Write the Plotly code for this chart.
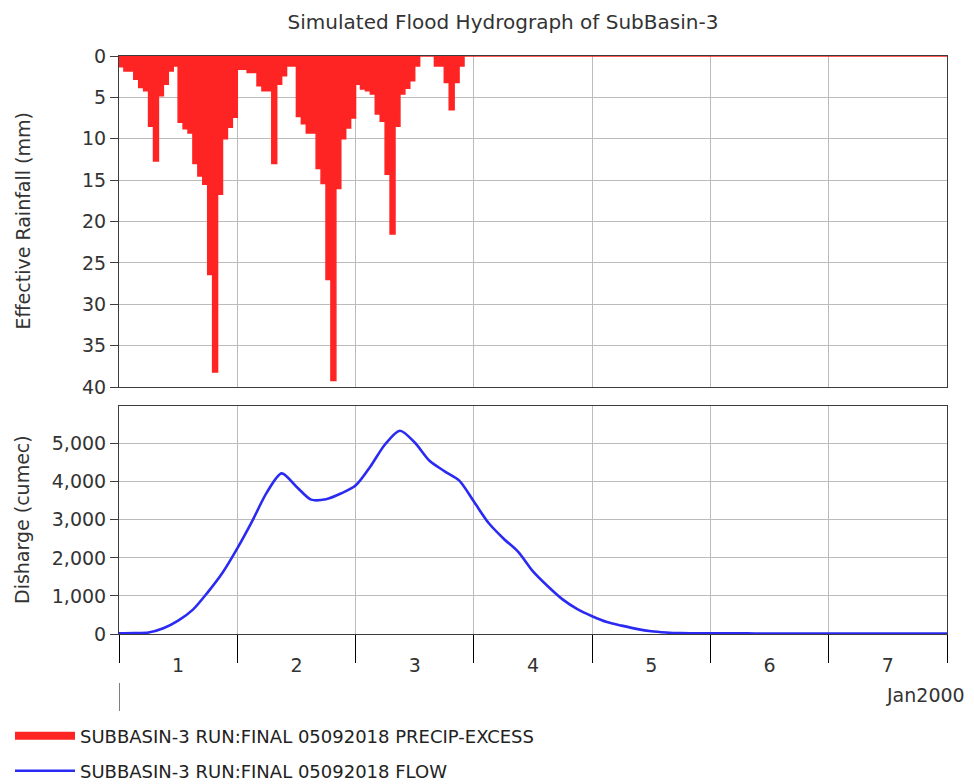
import pandas as pd
import plotly.graph_objects as go

# ---------------- data ----------------
start_time = "2000-01-01 00:00"
end_time = "2000-01-08 00:00"

# hourly effective rainfall (mm), hour 0 .. 71 of the event
rain_mm = [
    1.3, 1.8, 1.8, 2.8, 3.8, 4.2, 8.5, 12.7, 4.8, 3.4, 1.8, 1.2,
    8.0, 8.8, 9.3, 13.0, 14.5, 15.5, 26.4, 38.2, 16.7, 10.0, 8.6, 7.4,
    1.6, 1.6, 2.0, 2.0, 3.6, 4.2, 4.2, 13.0, 3.4, 2.4, 1.2, 1.2,
    7.3, 8.2, 9.3, 9.3, 13.6, 15.4, 27.0, 39.2, 16.0, 10.0, 8.7, 7.5,
    3.4, 4.0, 4.2, 4.6, 7.0, 7.9, 14.3, 21.5, 8.5, 4.6, 3.9, 3.0,
    1.2, 0.0, 0.0, 0.0, 1.2, 1.2, 3.2, 6.5, 3.2, 1.2, 0.0, 0.0,
]
rain_zero_tail = [0.0] * 97  # hours 72 .. 168, no excess rainfall

# discharge (cumec) every 3 hours, hour 0 .. 168
flow_cumec = [
    20, 25, 40, 150, 350, 640, 1095, 1610, 2250, 2960, 3720, 4220,
    3870, 3530, 3540, 3690, 3900, 4400, 4985, 5340, 5030, 4550, 4280, 4035,
    3480, 2915, 2510, 2160, 1645, 1255, 910, 655, 468, 314, 220, 135,
    73, 41, 23, 18, 17, 16, 16, 15, 15, 14, 14, 13,
    13, 12, 12, 12, 11, 11, 11, 10, 10,
]

rain_label = "SUBBASIN-3 RUN:FINAL 05092018 PRECIP-EXCESS"
flow_label = "SUBBASIN-3 RUN:FINAL 05092018 FLOW"
title_text = "Simulated Flood Hydrograph of SubBasin-3"

rain_series = rain_mm + rain_zero_tail
t0 = pd.Timestamp(start_time)
rain_time = [t0 + pd.Timedelta(hours=h) for h in range(len(rain_series))]
flow_time = [t0 + pd.Timedelta(hours=3 * i) for i in range(len(flow_cumec))]

# ---------------- styling ----------------
RED = "#ff2424"
BLUE = "#2a2af2"
GRID = "#bcbcbc"
AXLINE = "#3c3c3c"
TXT = "#333333"
FONT = "DejaVu Sans"
TICK_SIZE = 19

W, H = 974, 784
ML, MR, MT, MB = 119, 27, 56, 150
PH = H - MT - MB      # 578
PW = W - ML - MR      # 828

def py(ypix):
    return (H - MB - ypix) / PH

def px(xpix):
    return (xpix - ML) / PW

fig = go.Figure()

fig.add_trace(go.Scatter(
    x=rain_time, y=rain_series, mode="lines", line_shape="hv",
    line=dict(color=RED, width=1.5), fill="tozeroy", fillcolor=RED,
    xaxis="x2", yaxis="y2", showlegend=False, hoverinfo="x+y",
))
fig.add_trace(go.Scatter(
    x=[None], y=[None], mode="lines", line=dict(color=RED, width=8),
    name=rain_label, legend="legend", showlegend=True, xaxis="x2", yaxis="y2",
))
fig.add_trace(go.Scatter(
    x=flow_time, y=flow_cumec, mode="lines", line_shape="spline",
    line=dict(color=BLUE, width=2.6, smoothing=0.8),
    name=flow_label, legend="legend2", xaxis="x", yaxis="y",
))

xcommon = dict(
    type="date", range=[start_time, end_time], tick0=start_time, dtick=86400000,
    showgrid=True, gridcolor=GRID, gridwidth=1,
    showline=True, linecolor=AXLINE, linewidth=1, mirror=True, zeroline=False,
)
fig.update_layout(
    width=W, height=H,
    margin=dict(l=ML, r=MR, t=MT, b=MB, autoexpand=False),
    paper_bgcolor="white", plot_bgcolor="white",
    font=dict(family=FONT, size=TICK_SIZE, color=TXT),
    title=dict(text=title_text, xref="container", yref="container",
               x=503 / W, y=1 - 22 / H, xanchor="center", yanchor="middle",
               font=dict(family=FONT, size=20, color=TXT)),
    xaxis=dict(**xcommon, anchor="y", domain=[0, 1],
               ticks="outside", ticklen=28, tickcolor="#000", tickwidth=1,
               ticklabelmode="period", tickformat="%-d", ticklabelstandoff=-14,
               tickfont=dict(family=FONT, size=TICK_SIZE, color=TXT)),
    xaxis2=dict(**xcommon, anchor="y2", matches="x", showticklabels=False, ticks=""),
    yaxis=dict(domain=[0, py(406)], range=[0, 5990], dtick=1000, tick0=0,
               tickformat=",d", ticks="outside", ticklen=8, tickcolor=AXLINE,
               showgrid=True, gridcolor=GRID, showline=True, linecolor=AXLINE,
               mirror=True, zeroline=False,
               tickfont=dict(family=FONT, size=TICK_SIZE, color=TXT)),
    yaxis2=dict(domain=[py(387), 1], range=[40, 0], dtick=5, tick0=0,
                ticks="outside", ticklen=8, tickcolor=AXLINE,
                showgrid=True, gridcolor=GRID, showline=True, linecolor=AXLINE,
                mirror=True, zeroline=False,
                tickfont=dict(family=FONT, size=TICK_SIZE, color=TXT)),
    legend=dict(x=px(10), y=py(736), xanchor="left", yanchor="middle",
                bgcolor="rgba(0,0,0,0)", font=dict(family=FONT, size=18, color="#222"),
                itemwidth=60),
    legend2=dict(x=px(10), y=py(771), xanchor="left", yanchor="middle",
                 bgcolor="rgba(0,0,0,0)", font=dict(family=FONT, size=18, color="#222"),
                 itemwidth=60),
    annotations=[
        dict(text="Effective Rainfall (mm)", textangle=-90, xref="paper", yref="paper",
             x=px(22), y=py(221.5), xanchor="center", yanchor="middle",
             showarrow=False, font=dict(family=FONT, size=19, color=TXT)),
        dict(text="Disharge (cumec)", textangle=-90, xref="paper", yref="paper",
             x=px(22), y=py(520), xanchor="center", yanchor="middle",
             showarrow=False, font=dict(family=FONT, size=19, color=TXT)),
        dict(text="Jan2000", xref="paper", yref="paper",
             x=px(967), y=py(695), xanchor="right", yanchor="middle",
             showarrow=False, font=dict(family=FONT, size=TICK_SIZE, color=TXT)),
    ],
    shapes=[
        dict(type="line", xref="x", yref="paper", x0=start_time, x1=start_time,
             y0=py(683), y1=py(711), line=dict(color="#000", width=1)),
    ],
    showlegend=True,
)

fig.write_html("out.html")
